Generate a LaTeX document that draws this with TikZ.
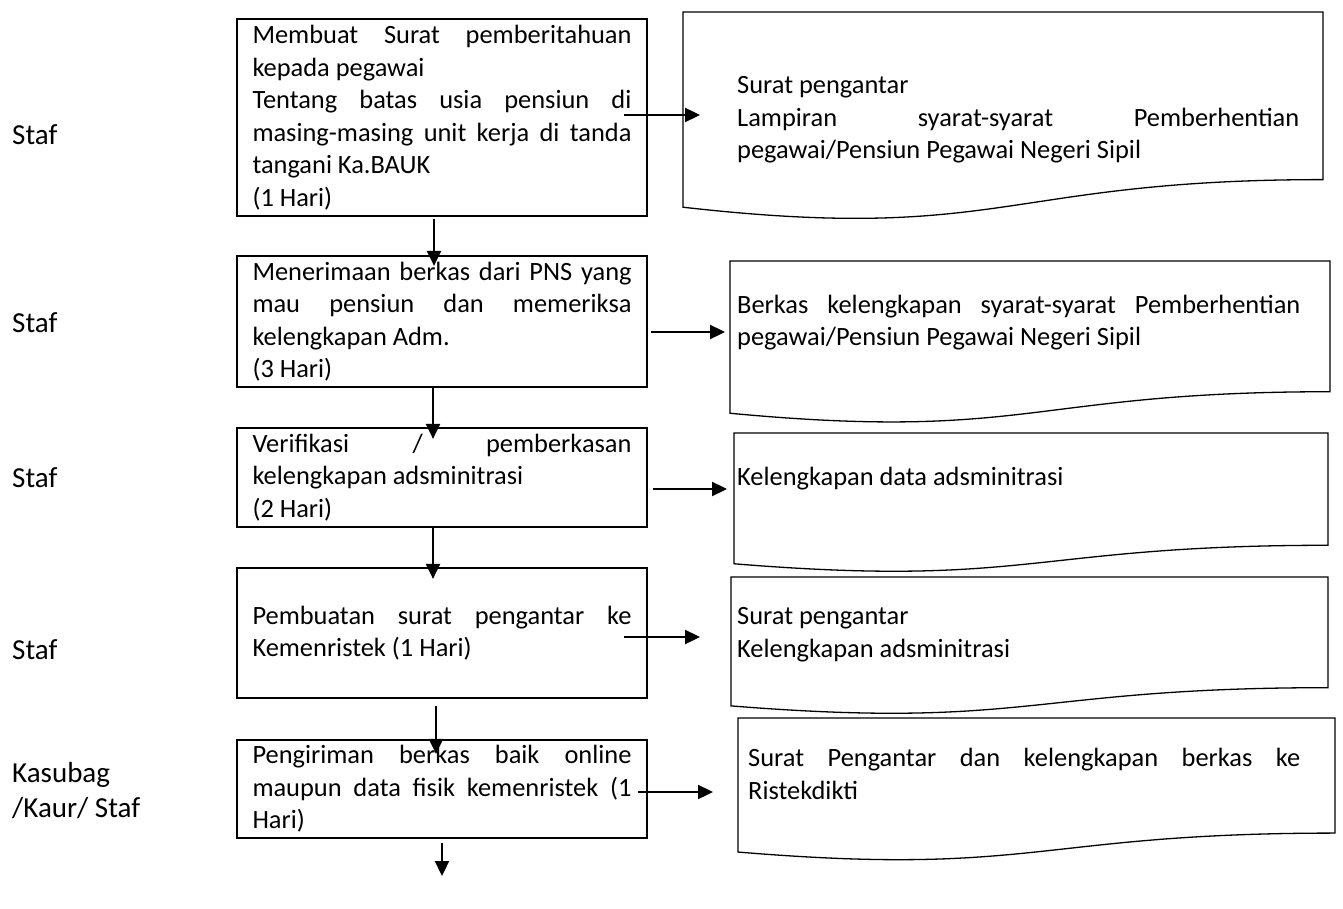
\documentclass[tikz,border=0pt]{standalone}
\usepackage{fontspec}
\setmainfont{Carlito}
\usepackage{tikz}
\usetikzlibrary{arrows.meta}
\usetikzlibrary{calc}
\usetikzlibrary{positioning}
\newcommand{\boxfont}{\fontsize{26.4}{32.5}\selectfont}
\newcommand{\rolefont}{\fontsize{29}{35}\selectfont}

\begin{document}
\begin{tikzpicture}[x=1pt, y=-1pt,
    stepbox/.style={draw, line width=2.2pt, rectangle, minimum width=410pt, text width=379pt,
      inner xsep=15.5pt, inner ysep=0pt, align=justify, font=\boxfont},
    docframe/.style={rectangle, anchor=north west, inner sep=0pt, outer sep=0pt},
    doctext/.style={anchor=west, inner sep=0pt, align=justify, font=\boxfont},
    role/.style={anchor=west, inner sep=0pt, align=left, font=\rolefont},
    arr/.style={line width=2.3pt, -{Triangle[length=15pt,width=14pt]}}]
    \useasboundingbox (0,0) rectangle (1343,909);

    % steps
    \node[stepbox, minimum height=197pt] (b1) at (442,117.5)
      {Membuat Surat pemberitahuan\linebreak kepada pegawai\\
       Tentang batas usia pensiun di\linebreak masing-masing unit kerja di tanda\linebreak tangani Ka.BAUK\\
       (1 Hari)};
    \node[stepbox, minimum height=131pt] (b2) at (442,321.5)
      {Menerimaan berkas dari PNS yang\linebreak mau pensiun dan memeriksa\linebreak kelengkapan Adm.\\
       (3 Hari)};
    \node[stepbox, minimum height=99pt] (b3) at (442,477.5)
      {Verifikasi / pemberkasan\linebreak kelengkapan adsminitrasi\\
       (2 Hari)};
    \node[stepbox, minimum height=130pt] (b4) at (442,633)
      {Pembuatan surat pengantar ke\linebreak Kemenristek (1 Hari)};
    \node[stepbox, minimum height=98pt] (b5) at (442,789)
      {Pengiriman berkas baik online\linebreak maupun data fisik kemenristek (1\linebreak Hari)};

    % who does it
    \node[role] (r1) at (12,135) {Staf};
    \node[role] (r2) at (12,323) {Staf};
    \node[role] (r3) at (12,478) {Staf};
    \node[role] (r4) at (12,650) {Staf};
    \node[role] (r5) at (12,790.5) {Kasubag\\/Kaur/ Staf};

    % documents
    \node[docframe, minimum width=640pt, minimum height=209pt] (d1) at (683,12) {};
    \node[docframe, minimum width=600pt, minimum height=163pt] (d2) at (730,261) {};
    \node[docframe, minimum width=594pt, minimum height=140pt] (d3) at (734,433) {};
    \node[docframe, minimum width=597pt, minimum height=138pt] (d4) at (731,577) {};
    \node[docframe, minimum width=597pt, minimum height=143.5pt] (d5) at (738,718) {};
    \foreach \d in {d1,d2,d3,d4,d5}
      \draw[line width=1.3pt] (\d.north west) -- (\d.north east)
        -- ($(\d.north east)!0.802!(\d.south east)$)
        .. controls ($(\d.north)!0.802!(\d.south)$) and ($(\d.north)!1.1075!(\d.south)$)
        .. ($(\d.north west)!0.934!(\d.south west)$) -- cycle;

    \node[doctext, text width=562pt] (t1) at (737,120)
      {Surat pengantar\\Lampiran syarat-syarat Pemberhentian\linebreak pegawai/Pensiun Pegawai Negeri Sipil};
    \node[doctext, text width=563pt] (t2) at (737,322.5)
      {Berkas kelengkapan syarat-syarat Pemberhentian\linebreak pegawai/Pensiun Pegawai Negeri Sipil};
    \node[doctext, text width=562pt] (t3) at (737,479) {Kelengkapan data adsminitrasi};
    \node[doctext, text width=562pt] (t4) at (737,634.5) {Surat pengantar\\Kelengkapan adsminitrasi};
    \node[doctext, text width=552pt] (t5) at (748,774)
      {Surat Pengantar dan kelengkapan berkas ke\linebreak Ristekdikti};

    % flow down
    \draw[arr] ([xshift=-8pt,yshift=-2pt]b1.south) -- ([xshift=-8pt,yshift=-11pt]b2.north);
    \draw[arr] ([xshift=-9pt]b2.south) -- ([xshift=-9pt,yshift=-12pt]b3.north);
    \draw[arr] ([xshift=-9pt]b3.south) -- ([xshift=-9pt,yshift=-12pt]b4.north);
    \draw[arr] ([xshift=-6pt,yshift=-7pt]b4.south) -- ([xshift=-6pt,yshift=-15pt]b5.north);
    \coordinate (fin) at (442,876);
    \draw[arr] ([yshift=-4pt]b5.south) -- (fin);

    % to the documents
    \draw[arr] ($(b1.east)+(-24,-2.5)$) -- ($(b1.east -| d1.west)+(17,-2.5)$);
    \draw[arr] ($(b2.east)+(3,10.5)$) -- ($(b2.east -| d2.west)+(-5,10.5)$);
    \draw[arr] ($(b3.east)+(5,11.5)$) -- ($(b3.east -| d3.west)+(-7,11.5)$);
    \draw[arr] ($(b4.east)+(-24,4)$) -- ($(b4.east -| d4.west)+(-31,4)$);
    \draw[arr] ($(b5.east)+(-10,3)$) -- ($(b5.east -| d5.west)+(-25,3)$);
\end{tikzpicture}
\end{document}
